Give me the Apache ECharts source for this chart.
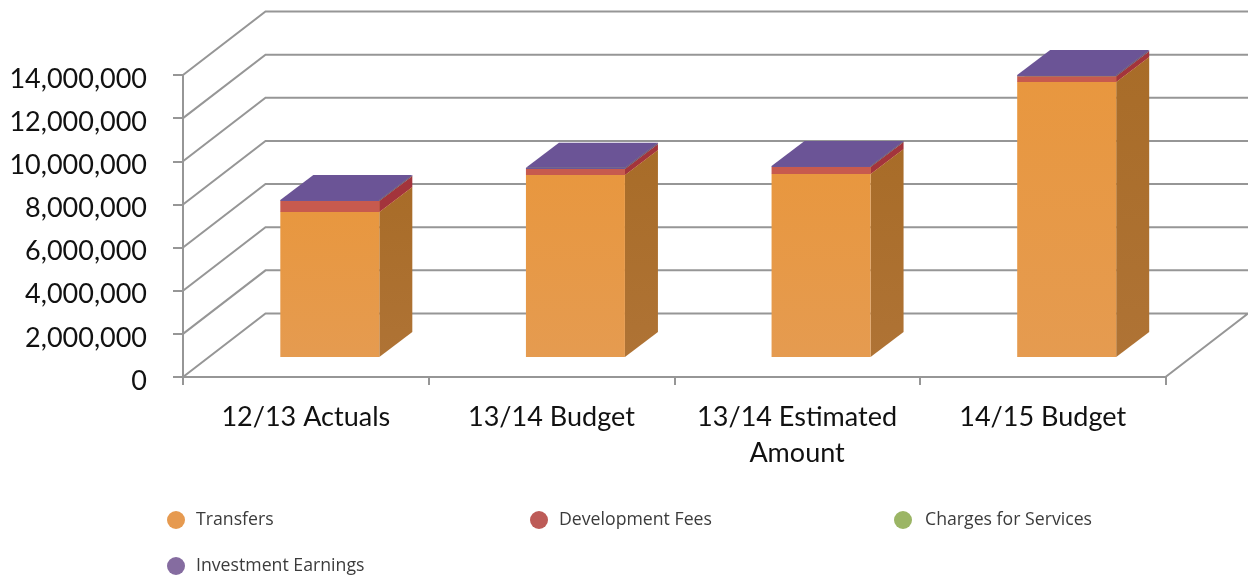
<!DOCTYPE html>
<html><head><meta charset="utf-8">
<style>html,body{margin:0;padding:0;background:#fff}#c{width:1248px;height:575px}</style>
<script src="https://cdn.jsdelivr.net/npm/echarts@6/dist/echarts.min.js"></script>
</head><body><div id="c"></div>
<script>
const categories = ['12/13 Actuals', '13/14 Budget', '13/14 Estimated\nAmount', '14/15 Budget'];
const transfers = [6720000, 8440000, 8480000, 12750000];
const developmentFees = [510000, 280000, 330000, 270000];
const chargesForServices = [0, 0, 0, 0];
const investmentEarnings = [50000, 50000, 50000, 50000];
const yTicks = [0, 2000000, 4000000, 6000000, 8000000, 10000000, 12000000, 14000000];

const GRID = {left: 183, right: 82.5, top: 75, bottom: 198};
const WALL = {dx: 82.5, dy: -63.5};
const BAR = {widthFrac: 99 / 245.625, shiftX: 24, floor: -20, dx: 33, dy: -25};
const LINE = '#969696';

const vGrad = (a, b) => ({type: 'linear', x: 0, y: 0, x2: 0, y2: 1, colorStops: [{offset: 0, color: a}, {offset: 1, color: b}]});

const stackDefs = [
  {name: 'Transfers', values: transfers, legend: '#E69A50', front: vGrad('#E8973F', '#E59B50'), side: vGrad('#A86C28', '#AF7335'), top: '#E6994B'},
  {name: 'Development Fees', values: developmentFees, legend: '#BD5B57', front: '#C75A4E', side: '#A3343C', top: '#C75A4E'},
  {name: 'Charges for Services', values: chargesForServices, legend: '#9BB565', front: '#9BB565', side: '#7A9048', top: '#9BB565'},
  {name: 'Investment Earnings', values: investmentEarnings, legend: '#856CA0', front: '#6C5796', side: '#6B4A86', top: '#6B5496'}
];

const running = categories.map(() => 0);
const barSeries = stackDefs.map(def => {
  const data = def.values.map((v, i) => {
    const row = [i, running[i], running[i] + v];
    running[i] += v;
    return row;
  });
  return {
    name: def.name, type: 'custom', coordinateSystem: 'cartesian2d', z: 5,
    itemStyle: {color: def.legend}, silent: true,
    encode: {x: 0, y: 2}, data,
    renderItem(params, api) {
      const band = api.size([1, 0])[0];
      const w = band * BAR.widthFrac;
      const a = api.coord([api.value(0), api.value(1)]);
      const b = api.coord([api.value(0), api.value(2)]);
      const x0 = a[0] - w / 2 + BAR.shiftX, x1 = x0 + w;
      const y0 = a[1] + BAR.floor, y1 = b[1] + BAR.floor;
      const poly = (points, fill) => ({type: 'polygon', shape: {points}, style: {fill}, silent: true});
      return {type: 'group', children: [
        poly([[x1, y0], [x1 + BAR.dx, y0 + BAR.dy], [x1 + BAR.dx, y1 + BAR.dy], [x1, y1]], def.side),
        poly([[x0, y1], [x1, y1], [x1 + BAR.dx, y1 + BAR.dy], [x0 + BAR.dx, y1 + BAR.dy]], def.top),
        poly([[x0, y0], [x1, y0], [x1, y1], [x0, y1]], def.front)
      ]};
    }
  };
});

const wallSeries = {
  type: 'custom', coordinateSystem: 'cartesian2d', z: 1, silent: true,
  data: yTicks.map(v => [0, v]), encode: {y: 1},
  renderItem(params, api) {
    const c = params.coordSys;
    const y = api.coord([0, api.value(1)])[1];
    const pts = [[c.x, y], [c.x + WALL.dx, y + WALL.dy], [c.x + c.width + WALL.dx, y + WALL.dy]];
    if (api.value(1) === 0) pts.push([c.x + c.width, y]);
    return {type: 'polyline', shape: {points: pts}, style: {fill: 'none', stroke: LINE, lineWidth: 2}, silent: true};
  }
};

const legendPos = [[167, 511, 3], [530, 511, 3], [894, 511, 5], [167, 557, 3]];
const chart = echarts.init(document.getElementById('c'), null, {renderer: 'canvas'});
chart.setOption({
  animation: false,
  backgroundColor: '#fff',
  grid: GRID,
  legend: stackDefs.map((d, i) => ({
    data: [d.name], left: legendPos[i][0], top: legendPos[i][1], icon: 'circle',
    itemWidth: 24, itemHeight: 18, itemGap: 0, padding: 0, selectedMode: false,
    textStyle: {fontFamily: 'Open Sans', fontSize: 17.7, color: '#3b3b3b', padding: [0, 0, 0, legendPos[i][2]]}
  })),
  xAxis: {
    type: 'category', data: categories,
    axisLine: {lineStyle: {color: LINE, width: 2}},
    axisTick: {show: true, length: 8, alignWithLabel: false, lineStyle: {color: LINE, width: 2}},
    axisLabel: {fontFamily: 'Lato', fontSize: 27, color: '#111', margin: 22, lineHeight: 36, interval: 0},
    splitLine: {show: false}
  },
  yAxis: {
    type: 'value', min: 0, max: 14000000, interval: 2000000,
    axisLine: {show: true, lineStyle: {color: LINE, width: 2}},
    axisTick: {show: true, length: 10, lineStyle: {color: LINE, width: 2}},
    axisLabel: {fontFamily: 'Lato', fontSize: 27, color: '#111', margin: 36, verticalAlign: 'top', lineHeight: 8},
    splitLine: {show: false}
  },
  series: [wallSeries, ...barSeries]
});
</script></body></html>
